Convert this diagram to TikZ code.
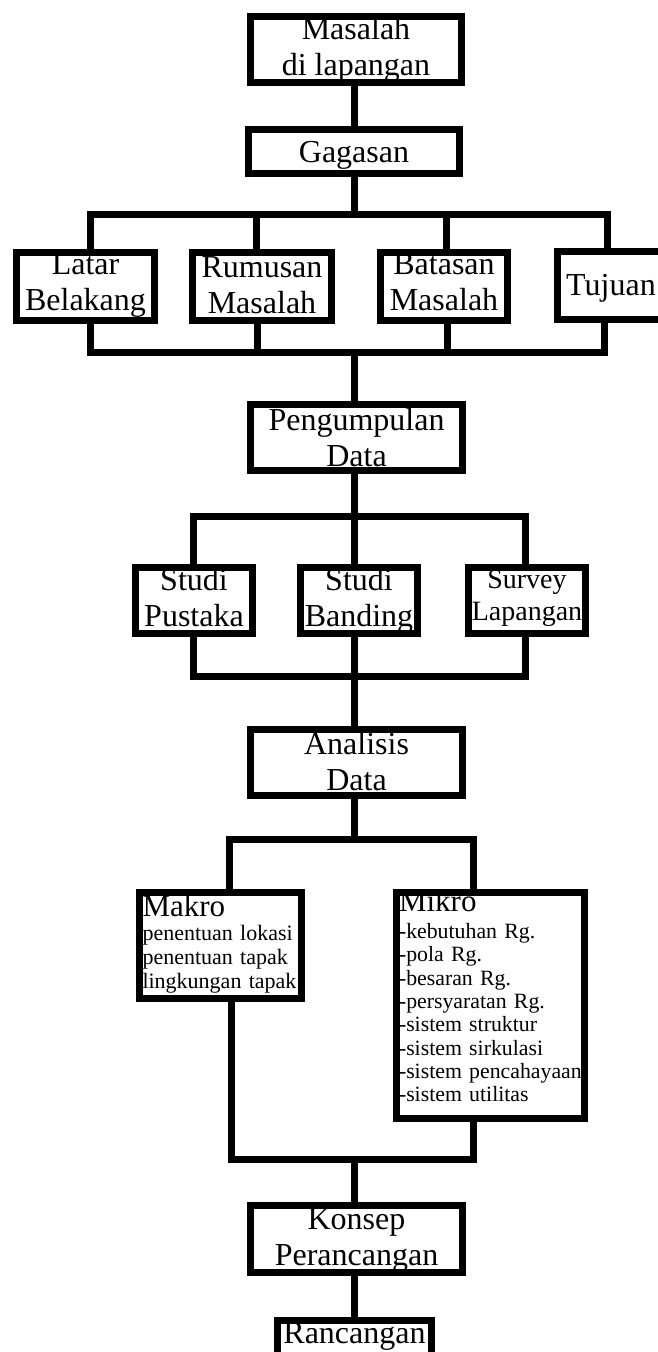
\documentclass[tikz,border=0pt]{standalone}
\usepackage{fontspec}
\setmainfont{Liberation Serif}
\begin{document}
\begin{tikzpicture}[x=1pt,y=-1pt,
  box/.style={draw=black, fill=white, line width=7pt, inner sep=0pt, anchor=north, align=center,
    font=\fontsize{32}{36}\selectfont},
  listbox/.style={draw=black, fill=white, line width=7pt, inner ysep=0pt, anchor=north, align=left},
  conn/.style={draw=black, line width=7pt, line join=miter}]
\fill[white] (0,0) rectangle (657,1352);
\useasboundingbox (0,0) rectangle (657,1352);

\node[box, minimum width=211pt, text height=59.2pt, text depth=6.8pt] (masalah) at (356,12.5) {Masalah\\di lapangan};
\node[box, minimum width=211pt, text height=33.5pt, text depth=10.5pt] (gagasan) at (354,125.5) {Gagasan};
\node[box, minimum width=138pt, text height=58.2pt, text depth=9.8pt] (latar) at (85.5,248.5) {Latar\\Belakang};
\node[box, minimum width=139pt, text height=61.5pt, text depth=6.5pt] (rumusan) at (262,248.5) {Rumusan\\Masalah};
\node[box, minimum width=127pt, text height=58.2pt, text depth=9.8pt] (batasan) at (444,248.5) {Batasan\\Masalah};
\node[box, minimum width=107pt, text height=44.2pt, text depth=23.8pt] (tujuan) at (611,247.5) {Tujuan};
\node[box, minimum width=212pt, text height=62.8pt, text depth=3.2pt] (pengumpulan) at (356.5,400.5) {Pengumpulan\\Data};
\node[box, minimum width=117pt, text height=59.8pt, text depth=6.2pt] (pustaka) at (194,563.5) {Studi\\Pustaka};
\node[box, minimum width=117pt, text height=59.8pt, text depth=6.2pt] (banding) at (359,563.5) {Studi\\Banding};
\node[box, minimum width=117pt, text height=53.2pt, text depth=12.8pt, font=\fontsize{28}{31.7}\selectfont] (survey) at (527,563.5) {Survey\\Lapangan};
\node[box, minimum width=212pt, text height=61.2pt, text depth=4.8pt] (analisis) at (356.5,725.5) {Analisis\\Data};
\node[listbox, text width=156pt, inner xsep=3pt, text height=24.5pt, text depth=81.5pt, font=\fontsize{22}{24}\selectfont] (makro) at (220.5,888.5)
  {{\fontsize{31}{24}\selectfont Makro}\\penentuan lokasi\\penentuan tapak\\lingkungan tapak};
\node[listbox, text width=183pt, inner xsep=2.5pt, text height=19.5pt, text depth=206.5pt, font=\fontsize{21.8}{23.3}\selectfont] (mikro) at (490.5,888.5)
  {{\fontsize{31}{23.3}\selectfont Mikro}\\[3.7pt]-kebutuhan Rg.\\-pola Rg.\\-besaran Rg.\\-persyaratan Rg.\\-sistem struktur\\-sistem sirkulasi\\-sistem pencahayaan\\-sistem utilitas};
\node[box, minimum width=212pt, text height=60.2pt, text depth=6.8pt] (konsep) at (356.5,1201.5) {Konsep\\Perancangan};
\node[box, minimum width=154pt, text height=23.5pt, text depth=60pt] (rancangan) at (354.5,1316.5) {Rancangan};

\coordinate (a1) at (90,214);
\coordinate (a2) at (256,214);
\coordinate (a3) at (446,214);
\coordinate (a4) at (607.5,214);
\coordinate (ac) at (354,214);
\coordinate (b1) at (90,352);
\coordinate (b2) at (257,352);
\coordinate (b3) at (447,352);
\coordinate (b4) at (604,352);
\coordinate (bc) at (354,352);
\coordinate (c1) at (193.5,516);
\coordinate (cc) at (354,516);
\coordinate (c3) at (525.5,516);
\coordinate (d1) at (193.5,676);
\coordinate (dc) at (354,676);
\coordinate (d3) at (525.5,676);
\coordinate (e1) at (229.5,839);
\coordinate (ec) at (354,839);
\coordinate (e2) at (473,839);
\coordinate (f1) at (231,1159);
\coordinate (fc) at (354,1159);
\coordinate (f2) at (473,1159);

\draw[conn] (gagasan.north) -- (gagasan.north |- masalah.south);
\draw[conn] (gagasan.south) -- (ac);
\draw[conn] (a1 |- latar.north) -- (a1) -- (a4) -- (a4 |- tujuan.north);
\draw[conn] (a2) -- (a2 |- rumusan.north);
\draw[conn] (a3) -- (a3 |- batasan.north);

\draw[conn] (b1 |- latar.south) -- (b1) -- (b4) -- (b4 |- tujuan.south);
\draw[conn] (b2 |- rumusan.south) -- (b2);
\draw[conn] (b3 |- batasan.south) -- (b3);
\draw[conn] (bc) -- (bc |- pengumpulan.north);

\draw[conn] (cc |- pengumpulan.south) -- (cc);
\draw[conn] (c1 |- pustaka.north) -- (c1) -- (c3) -- (c3 |- survey.north);
\draw[conn] (cc) -- (cc |- banding.north);

\draw[conn] (d1 |- pustaka.south) -- (d1) -- (d3) -- (d3 |- survey.south);
\draw[conn] (dc |- banding.south) -- (dc |- analisis.north);

\draw[conn] (ec |- analisis.south) -- (ec);
\draw[conn] (e1 |- makro.north) -- (e1) -- (e2) -- (e2 |- mikro.north);

\draw[conn] (f1 |- makro.south) -- (f1) -- (f2) -- (f2 |- mikro.south);
\draw[conn] (fc) -- (fc |- konsep.north);
\draw[conn] (fc |- konsep.south) -- (fc |- rancangan.north);
\end{tikzpicture}
\end{document}
